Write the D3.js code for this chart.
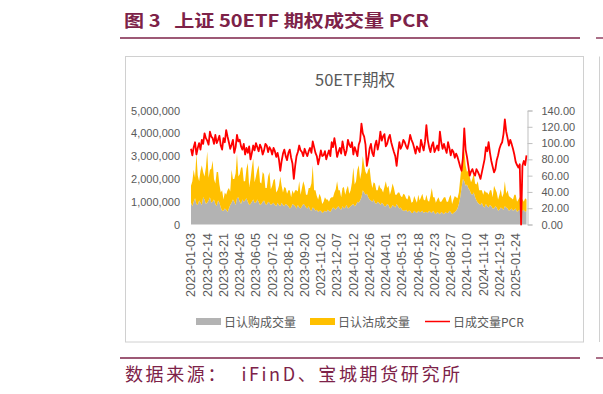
<!DOCTYPE html>
<html>
<head>
<meta charset="utf-8">
<script src="https://cdn.jsdelivr.net/npm/d3@7"></script>
<style>
  body { margin: 0; background: #fff; }
  svg { display: block; }
  .axis text { font-family: "Liberation Sans", Arial, sans-serif; font-size: 11px; fill: #595959; }
  .cjk { font-family: "Noto Sans CJK SC", sans-serif; }
</style>
</head>
<body>
<svg width="603" height="394"></svg>
<script>
// x-axis labels, one every 24 trading days
const tickLabels = [
  "2023-01-03", "2023-02-14", "2023-03-21", "2023-04-26", "2023-06-05", "2023-07-12",
  "2023-08-16", "2023-09-20", "2023-11-02", "2023-12-07", "2024-01-12", "2024-02-26",
  "2024-04-01", "2024-05-13", "2024-06-18", "2024-07-23", "2024-08-27", "2024-10-10",
  "2024-11-14", "2024-12-19", "2025-01-24"
];

// values, one every 2 trading days
// volumes in 万张 (10,000 contracts)
const callVolWan = [
  95, 80, 100, 115, 90, 85, 105, 95, 85, 120, 110, 90, 95, 105, 120, 95, 100, 110, 90, 80,
  105, 95, 75, 60, 60, 70, 65, 55, 70, 85, 95, 110, 100, 85, 115, 120, 100, 90, 110, 100,
  105, 115, 100, 85, 90, 100, 110, 95, 95, 110, 100, 85, 90, 100, 105, 90, 85, 100, 95, 85,
  90, 95, 85, 80, 95, 85, 80, 95, 85, 80, 90, 85, 80, 70, 75, 90, 85, 80, 70, 85,
  75, 70, 80, 90, 85, 75, 70, 80, 65, 60, 75, 70, 60, 65, 55, 60, 60, 50, 55, 60,
  55, 65, 60, 55, 65, 75, 70, 65, 75, 80, 70, 65, 80, 70, 75, 85, 70, 75, 80, 85,
  90, 80, 85, 100, 95, 105, 120, 150, 140, 130, 135, 120, 110, 105, 100, 110, 95, 90, 100, 95,
  85, 95, 90, 80, 80, 90, 85, 70, 75, 85, 80, 75, 90, 80, 70, 75, 65, 60, 60, 65,
  55, 60, 60, 50, 50, 60, 55, 50, 60, 55, 55, 60, 50, 55, 55, 50, 60, 55, 50, 60,
  50, 45, 55, 50, 45, 55, 50, 45, 55, 50, 50, 60, 55, 45, 50, 55, 60, 70, 90, 120,
  160, 200, 190, 170, 175, 160, 150, 135, 130, 140, 120, 105, 95, 90, 85, 95, 80, 75, 90, 80,
  75, 85, 80, 70, 70, 80, 75, 60, 65, 75, 70, 65, 80, 75, 70, 60, 65, 70, 60, 65,
  70, 55, 60, 65, 50, 60, 65, 55, 60
];

const putVolWan = [
  75, 110, 140, 90, 220, 130, 85, 140, 175, 110, 100, 160, 225, 100, 120, 150, 180, 90, 90, 150,
  125, 80, 65, 90, 50, 70, 65, 95, 90, 60, 145, 90, 100, 140, 195, 90, 120, 160, 140, 90,
  85, 130, 170, 80, 110, 150, 180, 90, 115, 130, 160, 100, 90, 130, 115, 70, 75, 110, 135, 70,
  80, 100, 115, 60, 55, 85, 130, 75, 55, 85, 70, 50, 70, 80, 45, 60, 50, 70, 80, 60,
  115, 60, 80, 100, 85, 55, 60, 80, 95, 120, 185, 80, 90, 60, 55, 75, 60, 40, 45, 60,
  55, 45, 40, 60, 55, 45, 70, 90, 115, 70, 80, 55, 80, 95, 55, 70, 100, 60, 70, 100,
  160, 95, 105, 140, 165, 95, 110, 150, 120, 100, 85, 120, 140, 90, 60, 75, 85, 60, 50, 80,
  75, 60, 50, 85, 110, 70, 85, 60, 75, 95, 80, 55, 40, 60, 70, 50, 55, 75, 70, 50,
  55, 70, 60, 45, 50, 65, 55, 45, 70, 50, 65, 75, 60, 50, 75, 55, 40, 70, 110, 60,
  70, 50, 55, 70, 55, 45, 60, 75, 65, 50, 50, 60, 75, 45, 60, 70, 60, 45, 50, 80,
  100, 120, 140, 90, 55, 80, 60, 50, 70, 85, 60, 70, 95, 60, 65, 55, 50, 75, 50, 60,
  55, 65, 70, 50, 100, 75, 65, 50, 65, 80, 50, 70, 110, 60, 80, 65, 55, 45, 50, 65,
  60, 45, 50, 55, 70, 50, 35, 60, 50
];

const pcr = [
  93, 85, 95, 101, 86, 94, 100, 92, 104, 99, 112, 106, 103, 98, 114, 108, 106, 99, 110, 100,
  104, 109, 97, 92, 106, 101, 116, 108, 101, 93, 98, 104, 88, 95, 110, 102, 104, 96, 92, 99,
  86, 94, 88, 96, 80, 88, 97, 91, 100, 95, 90, 98, 94, 86, 91, 99, 97, 89, 95, 92,
  86, 94, 90, 83, 88, 80, 66, 78, 87, 92, 84, 79, 88, 92, 82, 75, 56, 72, 84, 89,
  97, 91, 89, 84, 93, 88, 84, 90, 94, 88, 102, 95, 88, 84, 74, 82, 91, 84, 85, 90,
  80, 86, 91, 84, 101, 95, 106, 96, 83, 89, 94, 87, 102, 93, 85, 91, 104, 98, 95, 101,
  86, 95, 90, 84, 98, 103, 124, 112, 108, 98, 72, 81, 93, 99, 88, 84, 97, 103, 92, 100,
  114, 103, 108, 111, 96, 99, 106, 110, 101, 95, 89, 84, 72, 88, 101, 93, 97, 104, 101, 96,
  93, 100, 110, 104, 100, 94, 87, 96, 93, 89, 104, 97, 91, 102, 122, 104, 95, 89, 97, 101,
  89, 93, 97, 91, 114, 101, 93, 99, 93, 88, 101, 94, 85, 92, 89, 82, 87, 83, 77, 71,
  66, 82, 118, 92, 83, 72, 60, 65, 68, 63, 60, 68, 65, 61, 56, 64, 72, 80, 95, 90,
  101, 88, 78, 71, 64, 68, 79, 85, 93, 98, 101, 111, 129, 114, 106, 97, 104, 99, 93, 86,
  77, 73, 70, 74, 0, 72, 78, 73, 85
];

const step = 2;
const labelEvery = 24;
const maroon = "#7d2248";
const textGray = "#595959";

const svg = d3.select("svg");

// header and footer of the report page
svg.append("text").attr("class", "cjk")
  .attr("x", 124).attr("y", 27)
  .attr("textLength", 305).attr("lengthAdjust", "spacingAndGlyphs")
  .style("white-space", "pre")
  .attr("font-size", 17).attr("font-weight", 700).attr("fill", maroon)
  .text("图 3   上证 50ETF 期权成交量 PCR");

svg.append("line").attr("x1", 120).attr("x2", 580).attr("y1", 38).attr("y2", 38)
  .attr("stroke", maroon).attr("stroke-width", 1.3);
svg.append("line").attr("x1", 596).attr("x2", 603).attr("y1", 38).attr("y2", 38)
  .attr("stroke", maroon).attr("stroke-width", 1.3);

svg.append("line").attr("x1", 120).attr("x2", 580).attr("y1", 358).attr("y2", 358)
  .attr("stroke", maroon).attr("stroke-width", 1.3);
svg.append("line").attr("x1", 596).attr("x2", 603).attr("y1", 358).attr("y2", 358)
  .attr("stroke", maroon).attr("stroke-width", 1.3);

svg.append("text").attr("class", "cjk")
  .attr("x", 125).attr("y", 381)
  .attr("textLength", 335).attr("lengthAdjust", "spacing")
  .style("white-space", "pre")
  .attr("font-size", 18).attr("fill", maroon)
  .text("数据来源：  iFinD、宝城期货研究所");

// chart frame (and the edge of the next one)
svg.append("rect").attr("x", 125.5).attr("y", 56.5).attr("width", 458).attr("height", 285.5)
  .attr("fill", "#fff").attr("stroke", "#d0d0d0");
svg.append("line").attr("x1", 599.5).attr("x2", 599.5).attr("y1", 56.5).attr("y2", 342)
  .attr("stroke", "#d0d0d0");

svg.append("text").attr("class", "cjk")
  .attr("x", 355).attr("y", 86).attr("text-anchor", "middle")
  .attr("font-size", 16.5).attr("fill", textGray)
  .text("50ETF期权");

// scales
const x = d3.scaleLinear()
  .domain([0, (callVolWan.length - 1) * step])
  .range([191, 526.5]);
const yLeft = d3.scaleLinear().domain([0, 5000000]).range([224.5, 110.5]);
const yRight = d3.scaleLinear().domain([0, 140]).range([224.5, 110.5]);

// stacked areas
const rows = callVolWan.map((c, i) => ({ day: i * step, call: c * 1e4, put: putVolWan[i] * 1e4 }));
const stacked = d3.stack().keys(["call", "put"])(rows);
const fills = { call: "#b3b3b3", put: "#ffc000" };

const area = d3.area()
  .x(d => x(d.data.day))
  .y0(d => yLeft(d[0]))
  .y1(d => yLeft(d[1]));

svg.append("g").selectAll("path")
  .data(stacked)
  .join("path")
  .attr("fill", s => fills[s.key])
  .attr("d", area);

// PCR line
const line = d3.line()
  .x((d, i) => x(i * step))
  .y(d => yRight(d));

svg.append("path")
  .datum(pcr)
  .attr("fill", "none")
  .attr("stroke", "#ff0000")
  .attr("stroke-width", 1.8)
  .attr("stroke-linejoin", "round")
  .attr("d", line);

// axes
const gLeft = svg.append("g").attr("class", "axis")
  .attr("transform", "translate(191,0)")
  .call(d3.axisLeft(yLeft)
    .tickValues(d3.range(0, 5000001, 1000000))
    .tickFormat(d3.format(","))
    .tickSize(0).tickPadding(11));
gLeft.select(".domain").remove();

const gRight = svg.append("g").attr("class", "axis")
  .attr("transform", "translate(527.5,0)")
  .call(d3.axisRight(yRight)
    .tickValues(d3.range(0, 141, 20))
    .tickFormat(d3.format(".2f"))
    .tickSize(5).tickPadding(9));
gRight.selectAll("path, line").attr("stroke", "#bfbfbf");

svg.append("g").attr("class", "axis")
  .selectAll("text")
  .data(tickLabels)
  .join("text")
  .attr("transform", (d, i) => `translate(${x(i * labelEvery)},233) rotate(-90)`)
  .attr("text-anchor", "end")
  .attr("dy", "0.35em")
  .style("font-size", "12.5px")
  .text(d => d);

// legend
const legend = svg.append("g").attr("class", "cjk").attr("font-size", 12).attr("fill", textGray);
legend.append("rect").attr("x", 196).attr("y", 318).attr("width", 25).attr("height", 7).attr("fill", fills.call);
legend.append("text").attr("x", 224).attr("y", 326.5).text("日认购成交量");
legend.append("rect").attr("x", 310).attr("y", 318).attr("width", 25).attr("height", 7).attr("fill", fills.put);
legend.append("text").attr("x", 338).attr("y", 326.5).text("日认沽成交量");
legend.append("line").attr("x1", 425).attr("x2", 450).attr("y1", 321.5).attr("y2", 321.5)
  .attr("stroke", "#ff0000").attr("stroke-width", 1.5);
legend.append("text").attr("x", 453).attr("y", 326.5).text("日成交量PCR");
</script>
</body>
</html>
